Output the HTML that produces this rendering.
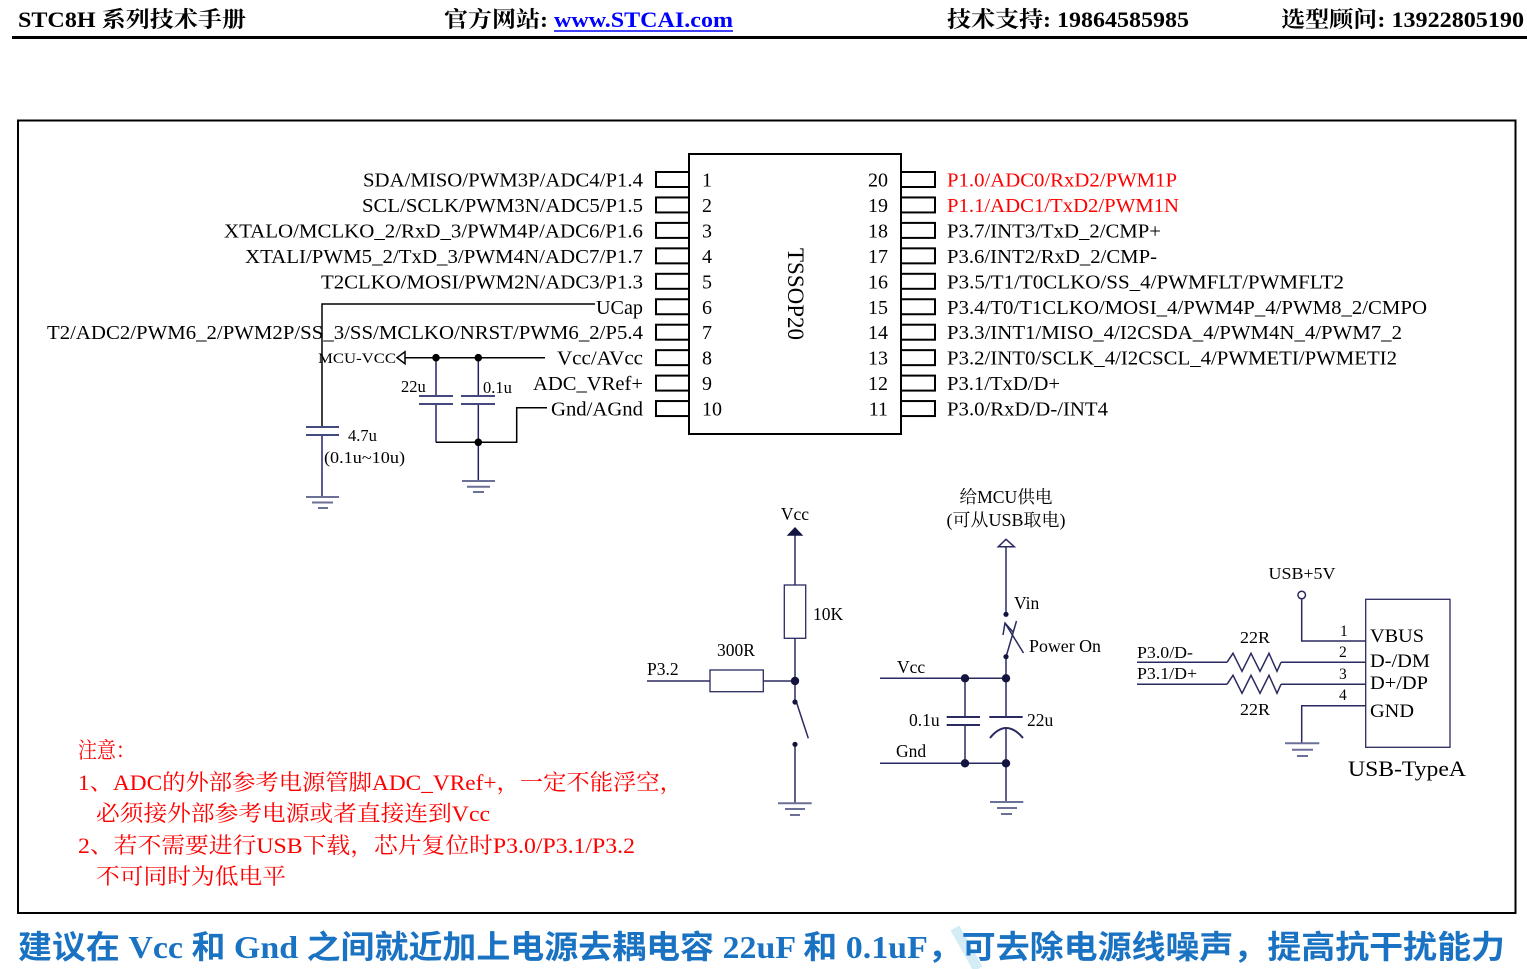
<!DOCTYPE html>
<html><head><meta charset="utf-8"><style>
html,body{margin:0;padding:0;background:#fff;}
svg{display:block;}
.s{font-family:"Liberation Serif","Noto Serif CJK SC",serif;}
</style></head><body>
<svg width="1527" height="969" viewBox="0 0 1527 969" xmlns="http://www.w3.org/2000/svg">
<rect width="1527" height="969" fill="#fff"/>
<!-- header -->
<g class="s" font-weight="bold" font-size="22" fill="#000">
<text x="18" y="27" textLength="228" lengthAdjust="spacingAndGlyphs">STC8H 系列技术手册</text>
<text x="444" y="27" textLength="104" lengthAdjust="spacingAndGlyphs">官方网站:</text>
<text x="554" y="27" fill="#0000ff" textLength="179" lengthAdjust="spacingAndGlyphs">www.STCAI.com</text>
<text x="947" y="27" textLength="242" lengthAdjust="spacingAndGlyphs">技术支持: 19864585985</text>
<text x="1281" y="27" textLength="243" lengthAdjust="spacingAndGlyphs">选型顾问: 13922805190</text>
</g>
<line x1="554" y1="31" x2="733" y2="31" stroke="#0000ff" stroke-width="1.5"/>
<line x1="12" y1="37.5" x2="1527" y2="37.5" stroke="#000" stroke-width="3"/>
<!-- frame -->
<rect x="18" y="120.5" width="1497.5" height="792.5" fill="none" stroke="#000" stroke-width="2"/>
<!-- chip -->
<rect x="689" y="154" width="212" height="280" fill="#fff" stroke="#000" stroke-width="2"/>
<g fill="#fff" stroke="#000" stroke-width="2">
<rect x="656" y="172" width="33" height="15"/><rect x="656" y="197.45" width="33" height="15"/><rect x="656" y="222.9" width="33" height="15"/><rect x="656" y="248.35" width="33" height="15"/><rect x="656" y="273.8" width="33" height="15"/><rect x="656" y="299.25" width="33" height="15"/><rect x="656" y="324.7" width="33" height="15"/><rect x="656" y="350.15" width="33" height="15"/><rect x="656" y="375.6" width="33" height="15"/><rect x="656" y="401.05" width="33" height="15"/>
<rect x="901" y="172" width="34" height="15"/><rect x="901" y="197.45" width="34" height="15"/><rect x="901" y="222.9" width="34" height="15"/><rect x="901" y="248.35" width="34" height="15"/><rect x="901" y="273.8" width="34" height="15"/><rect x="901" y="299.25" width="34" height="15"/><rect x="901" y="324.7" width="34" height="15"/><rect x="901" y="350.15" width="34" height="15"/><rect x="901" y="375.6" width="34" height="15"/><rect x="901" y="401.05" width="34" height="15"/>
</g>
<g class="s" font-size="20" fill="#000">
<text x="702" y="186.5">1</text><text x="702" y="212">2</text><text x="702" y="237.4">3</text><text x="702" y="262.9">4</text><text x="702" y="288.3">5</text><text x="702" y="313.8">6</text><text x="702" y="339.2">7</text><text x="702" y="364.7">8</text><text x="702" y="390.1">9</text><text x="702" y="415.6">10</text>
<g text-anchor="end"><text x="888" y="186.5">20</text><text x="888" y="212">19</text><text x="888" y="237.4">18</text><text x="888" y="262.9">17</text><text x="888" y="288.3">16</text><text x="888" y="313.8">15</text><text x="888" y="339.2">14</text><text x="888" y="364.7">13</text><text x="888" y="390.1">12</text><text x="888" y="415.6">11</text></g>
<text x="0" y="0" font-size="23" text-anchor="middle" transform="translate(788,294) rotate(90)">TSSOP20</text>
<!-- left labels -->
<text x="363" y="186.5" textLength="280" lengthAdjust="spacingAndGlyphs">SDA/MISO/PWM3P/ADC4/P1.4</text>
<text x="362" y="212" textLength="281" lengthAdjust="spacingAndGlyphs">SCL/SCLK/PWM3N/ADC5/P1.5</text>
<text x="224" y="237.4" textLength="419" lengthAdjust="spacingAndGlyphs">XTALO/MCLKO_2/RxD_3/PWM4P/ADC6/P1.6</text>
<text x="245" y="262.9" textLength="398" lengthAdjust="spacingAndGlyphs">XTALI/PWM5_2/TxD_3/PWM4N/ADC7/P1.7</text>
<text x="321" y="288.3" textLength="322" lengthAdjust="spacingAndGlyphs">T2CLKO/MOSI/PWM2N/ADC3/P1.3</text>
<text x="596" y="313.8" textLength="47" lengthAdjust="spacingAndGlyphs">UCap</text>
<text x="47" y="339.2" textLength="596" lengthAdjust="spacingAndGlyphs">T2/ADC2/PWM6_2/PWM2P/SS_3/SS/MCLKO/NRST/PWM6_2/P5.4</text>
<text x="557" y="364.7" textLength="86" lengthAdjust="spacingAndGlyphs">Vcc/AVcc</text>
<text x="533" y="390.1" textLength="110" lengthAdjust="spacingAndGlyphs">ADC_VRef+</text>
<text x="551" y="415.6" textLength="92" lengthAdjust="spacingAndGlyphs">Gnd/AGnd</text>
<!-- right labels -->
<text x="947" y="186.5" fill="#ff0000" textLength="230" lengthAdjust="spacingAndGlyphs">P1.0/ADC0/RxD2/PWM1P</text>
<text x="947" y="212" fill="#ff0000" textLength="232" lengthAdjust="spacingAndGlyphs">P1.1/ADC1/TxD2/PWM1N</text>
<text x="947" y="237.4" textLength="214" lengthAdjust="spacingAndGlyphs">P3.7/INT3/TxD_2/CMP+</text>
<text x="947" y="262.9" textLength="210" lengthAdjust="spacingAndGlyphs">P3.6/INT2/RxD_2/CMP-</text>
<text x="947" y="288.3" textLength="397" lengthAdjust="spacingAndGlyphs">P3.5/T1/T0CLKO/SS_4/PWMFLT/PWMFLT2</text>
<text x="947" y="313.8" textLength="480" lengthAdjust="spacingAndGlyphs">P3.4/T0/T1CLKO/MOSI_4/PWM4P_4/PWM8_2/CMPO</text>
<text x="947" y="339.2" textLength="455" lengthAdjust="spacingAndGlyphs">P3.3/INT1/MISO_4/I2CSDA_4/PWM4N_4/PWM7_2</text>
<text x="947" y="364.7" textLength="450" lengthAdjust="spacingAndGlyphs">P3.2/INT0/SCLK_4/I2CSCL_4/PWMETI/PWMETI2</text>
<text x="947" y="390.1" textLength="113" lengthAdjust="spacingAndGlyphs">P3.1/TxD/D+</text>
<text x="947" y="415.6" textLength="161" lengthAdjust="spacingAndGlyphs">P3.0/RxD/D-/INT4</text>
</g>
<!-- left cap network -->
<g fill="none" stroke-width="1.5">
<polyline points="595,304 322,304 322,427" stroke="#000"/>
<line x1="322" y1="435" x2="322" y2="497" stroke="#222266"/>
<line x1="306" y1="427" x2="339" y2="427" stroke="#444a80" stroke-width="2"/>
<line x1="306" y1="435" x2="339" y2="435" stroke="#444a80" stroke-width="2"/>
<line x1="306" y1="497" x2="339" y2="497" stroke="#6a7096" stroke-width="2"/>
<line x1="312" y1="502.5" x2="333" y2="502.5" stroke="#6a7096" stroke-width="2"/>
<line x1="318" y1="508" x2="328" y2="508" stroke="#6a7096" stroke-width="2"/>
<line x1="405" y1="357.7" x2="545" y2="357.7" stroke="#000"/>
<polygon points="397,357.7 405,351.7 405,363.7" stroke="#000" fill="#fff"/>
<line x1="436" y1="357.7" x2="436" y2="396" stroke="#222266"/>
<line x1="436" y1="404" x2="436" y2="442.3" stroke="#222266"/>
<line x1="478.3" y1="357.7" x2="478.3" y2="396" stroke="#222266"/>
<line x1="478.3" y1="404" x2="478.3" y2="481" stroke="#222266"/>
<line x1="419" y1="396" x2="453" y2="396" stroke="#444a80" stroke-width="2"/>
<line x1="419" y1="404" x2="453" y2="404" stroke="#444a80" stroke-width="2"/>
<line x1="461" y1="396" x2="495" y2="396" stroke="#444a80" stroke-width="2"/>
<line x1="461" y1="404" x2="495" y2="404" stroke="#444a80" stroke-width="2"/>
<polyline points="547,407.7 516.7,407.7 516.7,442.3 436,442.3" stroke="#000"/>
<line x1="462" y1="481" x2="495" y2="481" stroke="#6a7096" stroke-width="2"/>
<line x1="467" y1="486.7" x2="490" y2="486.7" stroke="#6a7096" stroke-width="2"/>
<line x1="473" y1="492" x2="484" y2="492" stroke="#6a7096" stroke-width="2"/>
</g>
<g fill="#000"><circle cx="436" cy="357.7" r="3.8"/><circle cx="478.3" cy="357.7" r="3.8"/><circle cx="478.3" cy="442.3" r="3.8"/></g>
<g class="s" fill="#000">
<text x="318" y="363" font-size="15" textLength="78" lengthAdjust="spacingAndGlyphs">MCU-VCC</text>
<text x="401" y="392" font-size="16.5">22u</text>
<text x="483" y="393" font-size="16.5">0.1u</text>
<text x="348" y="441" font-size="16.5">4.7u</text>
<text x="324" y="463" font-size="16.5" textLength="81" lengthAdjust="spacingAndGlyphs">(0.1u~10u)</text>
</g>
<!-- reset circuit -->
<g fill="none" stroke="#2a2a60" stroke-width="1.5">
<line x1="795" y1="535" x2="795" y2="585"/>
<rect x="784.3" y="585" width="21.4" height="53.3" stroke-width="1.3"/>
<line x1="795" y1="638.3" x2="795" y2="702"/>
<line x1="647" y1="681" x2="710" y2="681"/>
<rect x="710" y="670" width="53.3" height="21.7" stroke-width="1.3"/>
<line x1="763.3" y1="681" x2="795" y2="681"/>
<line x1="796.7" y1="703" x2="808.3" y2="738.3"/>
<line x1="795" y1="744.3" x2="795" y2="803.3"/>
<line x1="778" y1="803.3" x2="811.7" y2="803.3" stroke="#6a7096" stroke-width="2"/>
<line x1="785" y1="809" x2="805" y2="809" stroke="#6a7096" stroke-width="2"/>
<line x1="790" y1="815" x2="800" y2="815" stroke="#6a7096" stroke-width="2"/>
</g>
<polygon points="795,527 786.7,535.7 803.3,535.7" fill="#141440"/>
<g fill="#141440"><circle cx="795" cy="681" r="4.2"/><circle cx="795" cy="702" r="2.6"/><circle cx="795" cy="744.3" r="2.6"/></g>
<g class="s" fill="#000" font-size="17.5">
<text x="795" y="520" text-anchor="middle">Vcc</text>
<text x="813" y="620">10K</text>
<text x="717" y="656">300R</text>
<text x="647" y="675">P3.2</text>
</g>
<!-- power circuit -->
<g fill="none" stroke="#2a2a60" stroke-width="1.5">
<polygon points="1006,539.3 998.3,546.7 1014.3,546.7" fill="#fff"/>
<line x1="1006" y1="546.7" x2="1006" y2="614"/>
<line x1="1006" y1="657" x2="1016.5" y2="621"/>
<line x1="1023.5" y1="653" x2="1005" y2="623"/>
<polyline points="1003,635 1005,623 1013,632"/>
<line x1="1006" y1="657" x2="1006" y2="717"/>
<line x1="880" y1="678.3" x2="1006" y2="678.3"/>
<line x1="965" y1="678.3" x2="965" y2="717"/>
<line x1="965" y1="725" x2="965" y2="763.3"/>
<line x1="946.7" y1="717" x2="980" y2="717" stroke-width="2"/>
<line x1="946.7" y1="725" x2="980" y2="725" stroke-width="2"/>
<line x1="989.3" y1="717" x2="1022.7" y2="717" stroke-width="2"/>
<path d="M990,738 Q1006,718 1023,738" stroke-width="2"/>
<line x1="1006" y1="728" x2="1006" y2="802"/>
<line x1="880" y1="763.3" x2="1006" y2="763.3"/>
<line x1="990" y1="802" x2="1023.3" y2="802" stroke="#6a7096" stroke-width="2"/>
<line x1="997" y1="808" x2="1017" y2="808" stroke="#6a7096" stroke-width="2"/>
<line x1="1001" y1="814" x2="1012" y2="814" stroke="#6a7096" stroke-width="2"/>
</g>
<g fill="#141440"><circle cx="1006" cy="614.3" r="2.6"/><circle cx="1006" cy="656.7" r="2.6"/><circle cx="965" cy="678.3" r="4.2"/><circle cx="1006" cy="678.3" r="4.2"/><circle cx="965" cy="763.3" r="4.2"/><circle cx="1006" cy="763.3" r="4.2"/></g>
<g class="s" fill="#000" font-size="17.5">
<text x="1006" y="503" text-anchor="middle" textLength="93" lengthAdjust="spacingAndGlyphs">给MCU供电</text>
<text x="1006" y="526" text-anchor="middle" textLength="119" lengthAdjust="spacingAndGlyphs">(可从USB取电)</text>
<text x="1014" y="609">Vin</text>
<text x="1029" y="652" textLength="72" lengthAdjust="spacingAndGlyphs">Power On</text>
<text x="897" y="673">Vcc</text>
<text x="909" y="726">0.1u</text>
<text x="1027" y="726">22u</text>
<text x="896" y="757">Gnd</text>
</g>
<!-- USB -->
<g fill="none" stroke="#2a2a60" stroke-width="1.5">
<circle cx="1301.7" cy="595" r="3.8"/>
<polyline points="1301.7,599 1301.7,641 1365.7,641"/>
<rect x="1365.7" y="599.3" width="84.3" height="148" stroke-width="1.3"/>
<line x1="1137" y1="662.3" x2="1227" y2="662.3"/>
<line x1="1137" y1="684.3" x2="1227" y2="684.3"/>
<line x1="1281" y1="662.3" x2="1365.7" y2="662.3"/>
<line x1="1281" y1="684.3" x2="1365.7" y2="684.3"/>
<polyline points="1227,662.3 1233,653.3 1242,671.3 1251,653.3 1260,671.3 1269,653.3 1277,671.3 1281,662.3"/>
<polyline points="1227,684.3 1233,675.3 1242,693.3 1251,675.3 1260,693.3 1269,675.3 1277,693.3 1281,684.3"/>
<polyline points="1365.7,705.7 1301.7,705.7 1301.7,743.3"/>
<line x1="1285" y1="743.3" x2="1319.3" y2="743.3" stroke="#6a7096" stroke-width="2"/>
<line x1="1292" y1="749.7" x2="1313" y2="749.7" stroke="#6a7096" stroke-width="2"/>
<line x1="1297" y1="756" x2="1308" y2="756" stroke="#6a7096" stroke-width="2"/>
</g>
<g class="s" fill="#000">
<text x="1302" y="579" font-size="17" text-anchor="middle" textLength="67" lengthAdjust="spacingAndGlyphs">USB+5V</text>
<text x="1340" y="636" font-size="15.5">1</text>
<text x="1339" y="657" font-size="15.5">2</text>
<text x="1339" y="679" font-size="15.5">3</text>
<text x="1339" y="700" font-size="15.5">4</text>
<text x="1370" y="642" font-size="19" textLength="54" lengthAdjust="spacingAndGlyphs">VBUS</text>
<text x="1370" y="667" font-size="19" textLength="60" lengthAdjust="spacingAndGlyphs">D-/DM</text>
<text x="1370" y="689" font-size="19" textLength="58" lengthAdjust="spacingAndGlyphs">D+/DP</text>
<text x="1370" y="717" font-size="19" textLength="44" lengthAdjust="spacingAndGlyphs">GND</text>
<text x="1348" y="776" font-size="22" textLength="118" lengthAdjust="spacingAndGlyphs">USB-TypeA</text>
<text x="1137" y="658" font-size="17" textLength="56" lengthAdjust="spacingAndGlyphs">P3.0/D-</text>
<text x="1137" y="679" font-size="17" textLength="60" lengthAdjust="spacingAndGlyphs">P3.1/D+</text>
<text x="1240" y="643" font-size="17" textLength="30" lengthAdjust="spacingAndGlyphs">22R</text>
<text x="1240" y="715" font-size="17" textLength="30" lengthAdjust="spacingAndGlyphs">22R</text>
</g>
<!-- notes -->
<g class="s" fill="#ff0000" font-size="22">
<text x="78" y="758" textLength="57" lengthAdjust="spacingAndGlyphs">注意：</text>
<text x="78" y="790" textLength="605" lengthAdjust="spacingAndGlyphs">1、ADC的外部参考电源管脚ADC_VRef+，一定不能浮空，</text>
<text x="96" y="821" textLength="394" lengthAdjust="spacingAndGlyphs">必须接外部参考电源或者直接连到Vcc</text>
<text x="78" y="853" textLength="557" lengthAdjust="spacingAndGlyphs">2、若不需要进行USB下载，芯片复位时P3.0/P3.1/P3.2</text>
<text x="96" y="884" textLength="190" lengthAdjust="spacingAndGlyphs">不可同时为低电平</text>
</g>
<!-- bottom -->
<line x1="955" y1="928" x2="978" y2="969" stroke="#d3ecf6" stroke-width="10"/>
<text x="18" y="958" font-family="'Liberation Serif','Noto Sans CJK SC',sans-serif" font-weight="bold" font-size="32" fill="#1a72c2" textLength="1487" lengthAdjust="spacingAndGlyphs">建议在 Vcc 和 Gnd 之间就近加上电源去耦电容 22uF 和 0.1uF，可去除电源线噪声，提高抗干扰能力</text>
</svg>
</body></html>
